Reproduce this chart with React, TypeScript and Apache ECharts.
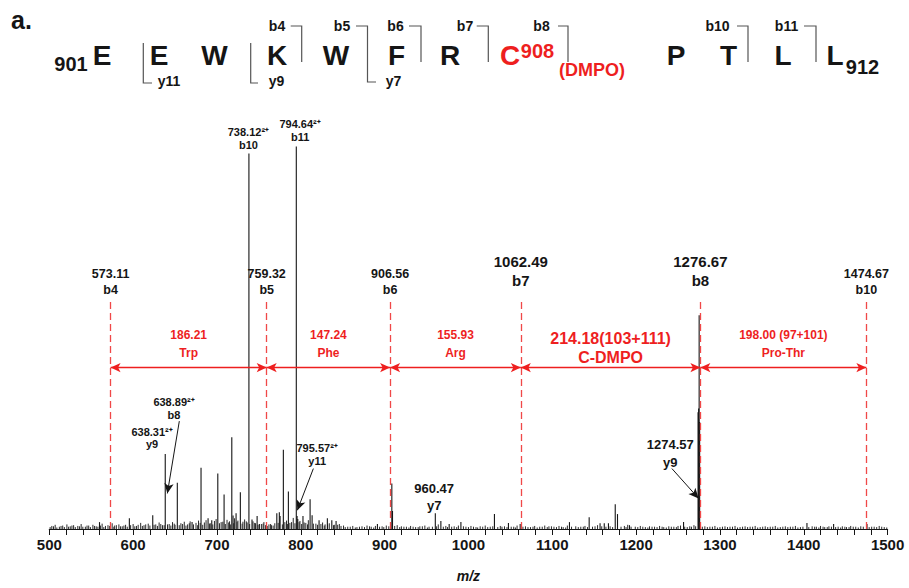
import React, { useEffect, useRef } from "react";
import * as echarts from "echarts";

// ---------- data ----------
// labelled / prominent fragment peaks: [m/z, relative intensity %]
const mainPeaks: [number, number][] = [
  [559.9, 1.8], [595.5, 2.8], [623.4, 3.6], [638.31, 19.6], [652.7, 12.1],
  [670.3, 1.8], [681.0, 16.0], [689.4, 2.8], [693.8, 2.3], [701.0, 14.5],
  [708.5, 9.0], [717.7, 24.0], [719.2, 3.5], [722.8, 4.1], [727.9, 9.6],
  [738.12, 98.2], [741.8, 2.5], [747.9, 3.4], [750.6, 1.3], [771.4, 4.1],
  [774.4, 4.4], [775.3, 3.4], [779.2, 20.7], [785.2, 9.8], [794.64, 100],
  [795.57, 3.4], [796.4, 2.6], [802.6, 3.4], [811.1, 7.8], [813.5, 3.6],
  [821.8, 2.3], [831.7, 2.8], [837.0, 2.3], [842.1, 2.1], [891.4, 1.3],
  [908.6, 11.9], [909.4, 4.7], [960.47, 4.1], [967.1, 2.1], [977.0, 1.3],
  [991.0, 1.8], [1031.0, 3.9], [1047.7, 1.6], [1061.7, 1.3], [1120.5, 1.8],
  [1144.0, 3.1], [1157.0, 1.5], [1162.0, 1.5], [1167.0, 1.5], [1175.1, 6.5],
  [1177.8, 3.9], [1192.1, 1.0], [1256.6, 1.8], [1273.9, 30.5], [1274.57, 31.5],
  [1275.2, 55.9], [1275.8, 28.0], [1403.8, 1.6], [1435.6, 1.3], [1475.4, 1.3],
];

// baseline chemical noise: [m/z, relative intensity %]
const noisePeaks: [number, number][] = [
  [503, 0.8], [507, 1.1], [512, 0.6], [516, 0.9], [521, 1.2], [525, 0.7], [529, 1.0],
  [534, 0.8], [538, 1.3], [543, 0.6], [547, 0.9], [552, 1.1], [556, 0.7], [563, 1.4],
  [567, 0.8], [570, 1.0], [575, 1.5], [578, 0.9], [583, 1.2], [587, 0.7], [591, 1.1],
  [600, 1.3], [604, 0.8], [609, 1.6], [613, 1.0], [618, 1.4], [627, 1.2], [631, 1.7],
  [635, 1.0], [643, 1.3], [647, 1.8], [650, 1.1], [657, 1.5], [661, 1.9], [665, 1.2],
  [668, 2.0], [675, 1.6], [678, 2.2], [685, 1.7], [687, 2.3], [692, 1.5], [697, 2.1],
  [699, 2.6], [705, 1.8], [712, 2.4], [715, 2.0], [721, 2.8], [725, 2.2], [731, 1.9],
  [733, 2.5], [736, 1.7], [743, 2.0], [745, 1.6], [753, 1.3], [756, 1.8], [762, 1.2],
  [765, 1.0], [769, 1.5], [783, 2.2], [789, 1.8], [791, 2.9], [799, 2.1], [806, 1.6],
  [809, 2.3], [818, 1.4], [826, 1.7], [829, 1.2], [834, 1.5], [840, 1.1], [846, 1.3],
  [851, 0.9], [856, 0.6], [862, 0.8], [867, 0.5], [873, 0.7], [879, 0.9], [884, 0.6],
  [889, 0.8], [897, 0.7], [902, 0.9], [915, 1.0], [920, 0.7], [926, 0.6], [931, 0.8],
  [937, 0.5], [942, 0.7], [948, 0.9], [953, 0.6], [964, 1.2], [973, 0.8], [983, 0.7],
  [988, 0.9], [997, 0.6], [1003, 0.8], [1009, 0.5], [1014, 0.7], [1020, 0.9], [1026, 0.6],
  [1038, 0.8], [1043, 0.7], [1054, 0.6], [1058, 0.9], [1068, 0.7], [1074, 0.5], [1079, 0.8],
  [1085, 0.6], [1091, 0.9], [1096, 0.7], [1102, 0.6], [1108, 0.8], [1113, 0.5], [1118, 0.9],
  [1128, 0.7], [1134, 0.6], [1139, 0.8], [1151, 0.7], [1154, 1.0], [1186, 0.8], [1190, 1.1],
  [1199, 0.6], [1205, 0.8], [1211, 0.5], [1216, 0.7], [1222, 0.6], [1228, 0.8], [1233, 0.5],
  [1239, 0.7], [1245, 0.6], [1250, 0.8], [1253, 0.9], [1264, 0.7], [1269, 1.0], [1282, 0.7],
  [1288, 0.6], [1294, 0.8], [1300, 0.5], [1306, 0.7], [1312, 0.6], [1318, 0.8], [1324, 0.5],
  [1330, 0.7], [1336, 0.6], [1342, 0.8], [1348, 0.5], [1354, 0.7], [1360, 0.6], [1366, 0.8],
  [1372, 0.5], [1378, 0.7], [1384, 0.6], [1390, 0.8], [1396, 0.5], [1410, 0.7], [1415, 0.6],
  [1420, 0.8], [1425, 0.5], [1430, 0.7], [1441, 0.6], [1446, 0.7], [1451, 0.5], [1456, 0.8],
  [1462, 0.6], [1468, 0.7], [1484, 0.6], [1490, 0.8], [1496, 0.5],
];

// finer baseline noise between the ones above: [m/z, relative intensity %]
const noiseFine: [number, number][] = [
  [501, 0.5], [505, 0.7], [509, 0.4], [514, 0.8], [518, 0.5], [523, 0.6], [527, 0.9], [531, 0.5],
  [536, 0.7], [540, 0.6], [545, 0.9], [549, 0.5], [554, 0.8], [558, 0.6], [561, 0.9], [565, 0.5],
  [572, 0.8], [577, 0.6], [580, 1.0], [585, 0.7], [589, 0.9], [593, 0.6], [597, 1.0], [602, 0.7],
  [606, 1.1], [611, 0.8], [615, 1.2], [620, 0.9], [625, 1.1], [629, 0.8], [633, 1.3], [637, 1.0],
  [641, 1.2], [645, 0.9], [649, 1.4], [655, 1.0], [659, 1.3], [663, 0.9], [667, 1.5], [672, 1.2],
  [677, 1.0], [680, 1.6], [683, 1.1], [691, 1.4], [695, 1.2], [703, 1.5], [707, 1.9], [710, 1.3],
  [714, 1.7], [716, 1.2], [720, 1.5], [724, 1.9], [730, 1.4], [735, 2.0], [739, 1.3], [746, 1.5],
  [749, 1.1], [755, 1.4], [758, 1.0], [760, 0.8], [764, 1.3], [767, 0.9], [773, 1.6], [778, 1.2],
  [781, 1.8], [784, 1.3], [787, 1.6], [793, 1.5], [798, 1.8], [801, 1.3], [804, 1.7], [808, 1.2],
  [815, 1.4], [820, 1.1], [824, 1.3], [828, 0.9], [832, 1.2], [839, 1.0], [844, 1.1], [848, 0.8],
  [853, 0.5], [859, 0.6], [865, 0.4], [870, 0.6], [876, 0.5], [882, 0.7], [887, 0.4], [894, 0.6],
  [899, 0.5], [905, 0.7], [912, 0.8], [918, 0.5], [923, 0.6], [929, 0.4], [934, 0.6], [940, 0.5],
  [945, 0.7], [951, 0.4], [957, 0.6], [962, 0.7], [970, 0.6], [975, 0.5], [980, 0.6], [986, 0.5],
  [994, 0.7], [1000, 0.5], [1006, 0.6], [1011, 0.4], [1017, 0.6], [1023, 0.5], [1029, 0.7], [1035, 0.5],
  [1040, 0.6], [1046, 0.5], [1051, 0.6], [1056, 0.4], [1065, 0.6], [1071, 0.5], [1077, 0.6], [1082, 0.4],
  [1088, 0.6], [1094, 0.5], [1099, 0.7], [1105, 0.5], [1111, 0.6], [1116, 0.4], [1123, 0.6], [1131, 0.5],
  [1137, 0.6], [1142, 0.5], [1148, 0.6], [1159, 0.7], [1164, 0.6], [1169, 0.7], [1172, 0.5], [1182, 0.6],
  [1188, 0.5], [1194, 0.6], [1202, 0.5], [1208, 0.6], [1214, 0.4], [1219, 0.6], [1225, 0.5], [1231, 0.6],
  [1236, 0.4], [1242, 0.6], [1248, 0.5], [1258, 0.6], [1261, 0.5], [1266, 0.6], [1271, 0.7], [1279, 0.6],
  [1285, 0.5], [1291, 0.6], [1297, 0.4], [1303, 0.6], [1309, 0.5], [1315, 0.6], [1321, 0.4], [1327, 0.6],
  [1333, 0.5], [1339, 0.6], [1345, 0.4], [1351, 0.6], [1357, 0.5], [1363, 0.6], [1369, 0.4], [1375, 0.6],
  [1381, 0.5], [1387, 0.6], [1393, 0.4], [1399, 0.6], [1406, 0.5], [1413, 0.6], [1418, 0.4], [1423, 0.6],
  [1428, 0.5], [1433, 0.6], [1438, 0.5], [1444, 0.4], [1449, 0.6], [1454, 0.5], [1459, 0.6], [1465, 0.4],
  [1471, 0.6], [1478, 0.5], [1481, 0.6], [1487, 0.5], [1493, 0.6], [1499, 0.4],
];

// b-ion ladder (red dashed cuts)
const ladderMz = [573.11, 759.32, 906.56, 1062.49, 1276.67, 1474.67];
const ladderIon = ["b4", "b5", "b6", "b7", "b8", "b10"];
const ladderMajor = [false, false, false, true, true, false];
// mass differences between consecutive ladder ions
const gapMass = ["186.21", "147.24", "155.93", "214.18(103+111)", "198.00 (97+101)"];
const gapResidue = ["Trp", "Phe", "Arg", "C-DMPO", "Pro-Thr"];

// other annotated ions
const noteText = ["738.12²⁺\nb10", "794.64²⁺\nb11", "638.89²⁺\nb8", "638.31²⁺\ny9", "795.57²⁺\ny11", "960.47\ny7", "1274.57\ny9"];

// peptide sequence
const residues = ["E", "E", "W", "K", "W", "F", "R", "C", "P", "T", "L", "L"];

// x-axis tick values
const xMin = 500;
const xMax = 1500;
const xStep = 20;
const xLabelStep = 100;

// ---------- layout (annotation placement, pixels / data coords) ----------
const RED = "#ee1f1f";
const RED_LINE = "#f04848";
const INK = "#151515";
const FONT = "'Liberation Sans', Arial, sans-serif";

const ladderTop = 60;
const arrowLevel = 42.2;
const notePos: [number, number, number, number][] = [
  // [m/z, intensity, fontSize, lineHeight]
  [737.5, 102.0, 11, 13],
  [799.2, 104.1, 11, 13],
  [648.8, 31.6, 11, 13],
  [622.6, 23.7, 11, 12],
  [819.5, 19.5, 11, 13],
  [959.1, 8.4, 13, 17],
  [1240.7, 19.8, 13, 18],
];
const pointerLines: [number, number, number, number][] = [
  [655.1, 28.2, 640.8, 9.3],
  [815.0, 15.8, 795.9, 4.9],
  [1242.7, 15.8, 1274.5, 8.0],
];

const residueX = [102, 159, 214.5, 277, 336, 396.5, 450, 510, 676, 728.5, 783, 835];

function stick(params: any, api: any) {
  const x = api.value(0);
  const h = api.value(1);
  const p0 = api.coord([x, 0]);
  const p1 = api.coord([x, h]);
  return {
    type: "line",
    shape: { x1: p0[0], y1: p0[1], x2: p1[0], y2: p1[1] },
    style: { stroke: INK, lineWidth: 1.1 },
  };
}

function noiseStick(params: any, api: any) {
  const el: any = stick(params, api);
  el.style = { stroke: "#2a2a2a", lineWidth: 1 };
  return el;
}

function buildGraphic() {
  const g: any[] = [];
  const txt = (text: string, x: number, y: number, size: number, fill = INK, align = "center") =>
    g.push({
      type: "text",
      x,
      y,
      silent: true,
      style: { text, fill, font: `bold ${size}px ${FONT}`, textAlign: align, textVerticalAlign: "middle" },
    });
  txt("a.", 11, 19.5, 25, INK, "left");
  txt("901", 71, 63.5, 20);
  residues.forEach((r, i) => txt(r, residueX[i], 55, 28, r === "C" ? RED : INK));
  txt("908", 537.5, 50.5, 20, RED);
  txt("(DMPO)", 592, 70, 18, RED);
  txt("912", 862.5, 66.5, 20);
  const bLab: [string, number][] = [["b4", 277], ["b5", 342], ["b6", 395.5], ["b7", 465], ["b8", 541.5], ["b10", 717.5], ["b11", 786.5]];
  bLab.forEach(([t, x]) => txt(t, x, 26, 14));
  const yLab: [string, number][] = [["y11", 169], ["y9", 276.5], ["y7", 393.5]];
  yLab.forEach(([t, x]) => txt(t, x, 81, 14));
  const brackets: number[][][] = [
    [[290.7, 26], [301.7, 26], [301.7, 62]],
    [[356, 26], [367.5, 26], [367.5, 82], [376, 82]],
    [[409, 26], [421, 26], [421, 62]],
    [[476.7, 26], [488.3, 26], [488.3, 62]],
    [[558, 26], [568, 26], [568, 62]],
    [[737, 26], [748, 26], [748, 62]],
    [[804, 26], [816, 26], [816, 62]],
    [[143.3, 43], [143.3, 83], [152, 83]],
    [[250.7, 43], [250.7, 83], [258, 83]],
  ];
  brackets.forEach((pts) =>
    g.push({ type: "polyline", silent: true, shape: { points: pts }, style: { stroke: "#555", lineWidth: 1.2, fill: "none" } })
  );
  return g;
}

export default function App() {
  const ref = useRef<HTMLDivElement>(null);
  useEffect(() => {
    if (!ref.current) return;
    const chart = echarts.init(ref.current, null, { renderer: "svg" });

    const ladderLines = ladderMz.map((mz, i) => [
      { coord: [mz, 0] },
      {
        coord: [mz, ladderTop],
        label: {
          formatter: `${mz.toFixed(2)}\n${ladderIon[i]}`,
          fontSize: ladderMajor[i] ? 15 : 12.5,
          lineHeight: ladderMajor[i] ? 18.5 : 16,
          distance: ladderMajor[i] ? 10 : 2,
        },
      },
    ]);
    const gapArrows = gapMass.map((m, i) => {
      const major = i === 3;
      return [
        { coord: [ladderMz[i], arrowLevel] },
        {
          coord: [ladderMz[i + 1], arrowLevel],
          label: {
            formatter: `${m}\n${gapResidue[i]}`,
            fontSize: major ? 16 : 12,
            lineHeight: major ? 18.5 : 17.5,
            distance: major ? 1 : 6,
          },
        },
      ];
    });

    const option: any = {
      animation: false,
      backgroundColor: "#ffffff",
      textStyle: { fontFamily: FONT },
      grid: { left: 49.3, right: 21.4, top: 70, bottom: 54, containLabel: false },
      xAxis: {
        type: "value",
        min: xMin,
        max: xMax,
        interval: xStep,
        name: "m/z",
        nameLocation: "middle",
        nameGap: 40,
        nameTextStyle: { fontStyle: "italic", fontWeight: "bold", fontSize: 14, color: INK, fontFamily: FONT },
        axisLine: { show: true, onZero: false, lineStyle: { color: INK, width: 1.2 } },
        axisTick: { show: true, inside: false, length: 6, lineStyle: { color: INK, width: 1 } },
        axisLabel: {
          show: true,
          margin: 8,
          color: INK,
          fontSize: 15,
          fontWeight: "bold",
          fontFamily: FONT,
          showMinLabel: true,
          showMaxLabel: true,
          formatter: (v: number) => (Math.round(v) % xLabelStep === 0 ? String(Math.round(v)) : ""),
        },
        splitLine: { show: false },
      },
      yAxis: { type: "value", min: 0, max: 120, show: false, splitLine: { show: false } },
      graphic: buildGraphic(),
      series: [
        {
          type: "custom",
          name: "noise",
          silent: true,
          data: noisePeaks,
          encode: { x: 0, y: 1 },
          renderItem: noiseStick,
          z: 2,
        },
        {
          type: "custom",
          name: "noiseFine",
          silent: true,
          data: noiseFine,
          encode: { x: 0, y: 1 },
          renderItem: noiseStick,
          z: 2,
        },
        {
          type: "custom",
          name: "peaks",
          silent: true,
          data: mainPeaks,
          encode: { x: 0, y: 1 },
          renderItem: stick,
          z: 3,
        },
        {
          type: "line",
          name: "ladder",
          data: [],
          silent: true,
          z: 5,
          markLine: {
            silent: true,
            animation: false,
            symbol: ["none", "none"],
            lineStyle: { color: RED_LINE, width: 1.3, type: [7, 4] },
            label: { show: true, position: "end", distance: 3, color: INK, fontWeight: "bold", fontFamily: FONT },
            emphasis: { disabled: true },
            data: ladderLines,
          },
        },
        {
          type: "line",
          name: "gaps",
          data: [],
          silent: true,
          z: 6,
          markLine: {
            silent: true,
            animation: false,
            symbol: ["arrow", "arrow"],
            symbolSize: [7, 10],
            lineStyle: { color: RED, width: 1.3, type: "solid" },
            label: { show: true, position: "middle", distance: 6, color: RED, fontWeight: "bold", fontFamily: FONT },
            emphasis: { disabled: true },
            data: gapArrows,
          },
        },
        {
          type: "line",
          name: "pointers",
          data: [],
          silent: true,
          z: 6,
          markLine: {
            silent: true,
            animation: false,
            symbol: ["none", "arrow"],
            symbolSize: [7, 10],
            lineStyle: { color: INK, width: 1, type: "solid" },
            label: { show: false },
            emphasis: { disabled: true },
            data: pointerLines.map(([a, b, c, d]) => [{ coord: [a, b] }, { coord: [c, d] }]),
          },
          markPoint: {
            silent: true,
            animation: false,
            symbol: "rect",
            symbolSize: 1,
            itemStyle: { color: "rgba(0,0,0,0)" },
            emphasis: { disabled: true },
            data: noteText.map((t, i) => ({
              coord: [notePos[i][0], notePos[i][1]],
              label: {
                show: true,
                position: "inside",
                formatter: t,
                color: INK,
                fontWeight: "bold",
                fontFamily: FONT,
                fontSize: notePos[i][2],
                lineHeight: notePos[i][3],
              },
            })),
          },
        },
      ],
    };
    chart.setOption(option);
    return () => chart.dispose();
  }, []);
  return (
    <div
      ref={ref}
      style={{ position: "fixed", left: 0, top: 0, width: 909, height: 588, background: "#fff" }}
    />
  );
}
